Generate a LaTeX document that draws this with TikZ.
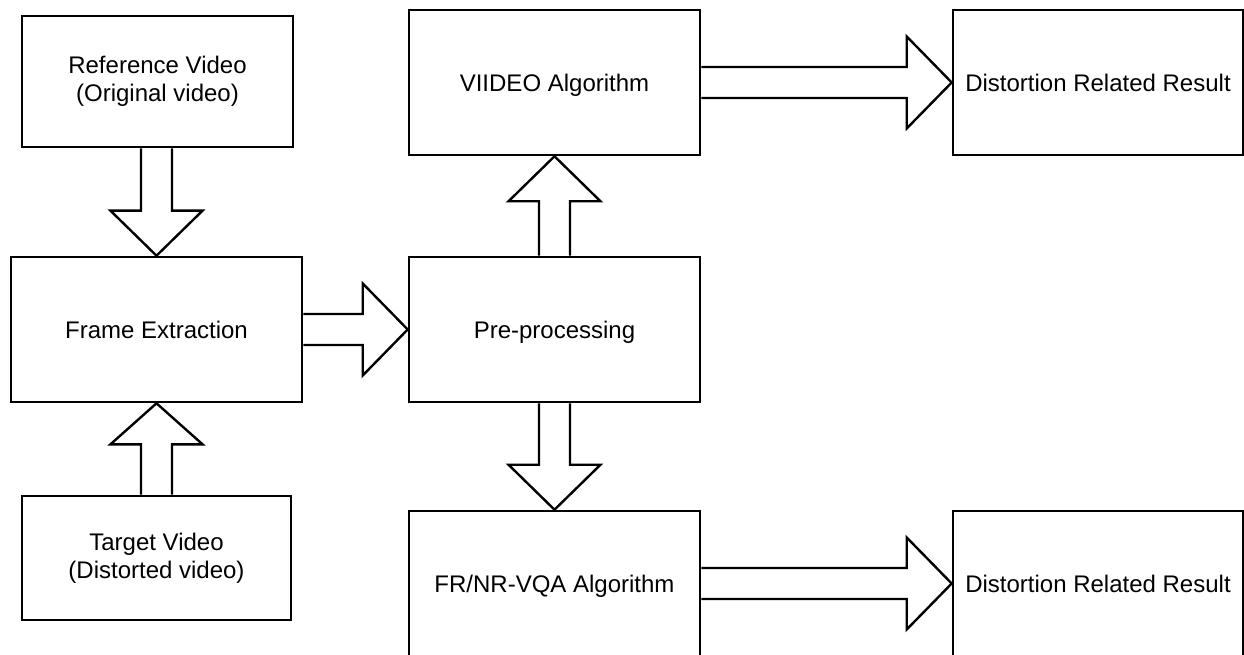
\documentclass[tikz,border=0pt]{standalone}
\usepackage{fontspec}
\setmainfont{Liberation Sans}
\usetikzlibrary{calc}
\newcommand{\vblk}[3]{%
  \draw[blk] let \p1=(#1), \p2=(#2) in
    (\x2-15.5pt,\y1) -- (\x2-15.5pt,{\y2+(#3)}) -- (\x2-46pt,{\y2+(#3)}) --
    (\x2,\y2) -- (\x2+46pt,{\y2+(#3)}) -- (\x2+15.5pt,{\y2+(#3)}) -- (\x2+15.5pt,\y1);}
\newcommand{\hblk}[3]{%
  \draw[blk] let \p1=(#1), \p2=(#2) in
    (\x1,\y2+15.5pt) -- ({\x2-(#3)},\y2+15.5pt) -- ({\x2-(#3)},\y2+46pt) --
    (\x2,\y2) -- ({\x2-(#3)},\y2-46pt) -- ({\x2-(#3)},\y2-15.5pt) -- (\x1,\y2-15.5pt);}
\begin{document}
\begin{tikzpicture}[x=1pt,y=1pt,
  box/.style={draw, line width=2.6pt, rectangle, inner sep=0pt, align=center,
    font=\fontsize{24}{27.6}\selectfont},
  oneline/.style={text height=17.4pt, text depth=0pt},
  blk/.style={draw, line width=2.4pt, line join=miter}]
\useasboundingbox (0,0) rectangle (1244,654);
\clip (0,0) rectangle (1244,654);
\fill[white] (0,0) rectangle (1244,654);
% boxes
\node[box, minimum width=271pt, minimum height=131pt] (ref) at (157.5,572.5) {Reference Video\\(Original video)};
\node[box, oneline, minimum width=291pt, minimum height=145pt] (frame) at (156.5,324.5) {Frame Extraction};
\node[box, minimum width=269pt, minimum height=124pt] (target) at (156.5,96) {Target Video\\(Distorted video)};
\node[box, oneline, minimum width=291pt, minimum height=145pt] (pre) at (554.5,324.5) {Pre-processing};
\node[box, oneline, minimum width=291pt, minimum height=145pt] (vid) at (554.5,571.5) {VIIDEO Algorithm};
\node[box, oneline, minimum width=291pt, minimum height=145pt] (fr) at (554.5,70.5) {FR/NR-VQA Algorithm};
\node[box, oneline, minimum width=290pt, minimum height=145pt] (d1) at (1098,571.5) {Distortion Related Result};
\node[box, oneline, minimum width=290pt, minimum height=145pt] (d2) at (1098,70.5) {Distortion Related Result};
% block arrows
\vblk{ref.south}{frame.north}{45pt}
\vblk{target.north}{frame.south}{-41pt}
\vblk{pre.north}{vid.south}{-45pt}
\vblk{pre.south}{fr.north}{45pt}
\hblk{frame.east}{pre.west}{45pt}
\hblk{vid.east}{d1.west}{45pt}
\hblk{fr.east}{d2.west}{45pt}
\end{tikzpicture}
\end{document}
